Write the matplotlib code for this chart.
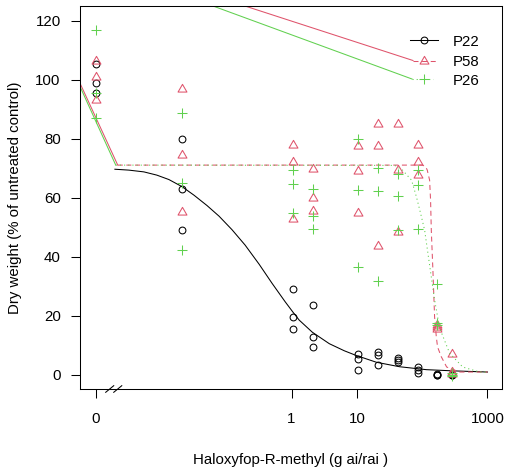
import matplotlib
matplotlib.use("Agg")
import matplotlib.pyplot as plt
from matplotlib.path import Path
from matplotlib.transforms import blended_transform_factory

# ---------------- data ----------------
doses = [0, 0.021, 1.06, 2.1, 10.6, 21, 42, 85, 170, 290]
zero_pos = 0.001  # where dose 0 is drawn on the broken log axis

p22 = [[105.5, 99, 95.5], [80, 63, 49], [29, 19.6, 15.6], [23.7, 12.9, 9.5],
       [7, 5.5, 1.7], [7.8, 6.6, 3.5], [5.8, 5.0, 4.4], [2.7, 1.7, 0.8],
       [0.3, 0, 0], [0.3, 0, 0]]
p58 = [[106.5, 101, 93], [97, 74.4, 55.2], [77.8, 72, 53], [69.7, 60, 55.5],
       [77.5, 69, 55], [85, 77.5, 43.6], [85, 69.4, 48.4], [77.8, 72.2, 67.7],
       [17, 16.2, 15.5], [7.1, 1, 0.5]]
p26 = [[117, 95.5, 87], [88.7, 65, 42.3], [69.4, 64.6, 54.8], [63, 54, 49.4],
       [80, 62.6, 36.5], [70, 62.3, 31.8], [68, 60.6, 49], [69.6, 64.4, 49.3],
       [30.8, 17.6, 16.8], [0.6, 0, -0.5]]

# fitted curves
p22_cx = [0.00198, 0.00324, 0.00551, 0.0087, 0.0133, 0.0211, 0.0322, 0.0509,
          0.0778, 0.123, 0.195, 0.32, 0.506, 0.80, 1.06, 1.31, 2.08, 3.79,
          6.43, 9.8, 20, 44.9, 116, 292, 1000]
p22_cy = [69.7, 69.4, 68.8, 67.7, 66.2, 63.8, 60.9, 57.4, 53.8, 49.2, 44.0,
          37.5, 31.0, 24.8, 21.2, 18.6, 14.5, 10.6, 8.2, 6.6, 4.3, 2.8, 1.8,
          1.4, 1.0]
p58_cx = [0.00219, 101, 113, 119.7, 130, 134.6, 138, 146, 155, 164.5, 172,
          196, 237, 375, 1000]
p58_cy = [71.1, 71.1, 70.6, 69.4, 66, 59, 49, 35.5, 19.6, 13, 9.5, 6.2,
          2.7, 1.0, 1.0]
p26_cx = [0.00204, 38, 50, 68.8, 82, 94.5, 109, 130, 155, 185, 263, 417,
          760, 1000]
p26_cy = [71.1, 71.0, 69.4, 66, 60.2, 54.8, 49.1, 37.2, 25.4, 15.9, 7.4,
          2.7, 1.0, 1.0]

series_names = ["P22", "P58", "P26"]
x_ticks = [0.001, 1, 10, 1000]
x_ticklabels = ["0", "1", "10", "1000"]
y_ticks = [0, 20, 40, 60, 80, 100, 120]

# ---------------- style ----------------
plt.rcParams["font.family"] = ["Liberation Sans", "DejaVu Sans"]
plt.rcParams["lines.scale_dashes"] = False
FS = 10.8
LW = 0.75
BLACK = "#000000"
RED = "#DF536B"
GREEN = "#61D04F"

tri = Path([(0, 1.0), (0.866, -0.5), (-0.866, -0.5), (0, 1.0)],
           [Path.MOVETO, Path.LINETO, Path.LINETO, Path.CLOSEPOLY])

fig = plt.figure(figsize=(5.05, 4.72), dpi=100)
ax = fig.add_axes([79.5 / 505, 1 - 389 / 472, (502 - 79.5) / 505, (389 - 6) / 472])
ax.set_xscale("log")
ax.set_xlim(10 ** -3.245, 10 ** 3.222)
ax.set_ylim(-4.75, 125.0)


def xs_of(d):
    return zero_pos if d == 0 else d


def scatter(vals, **kw):
    xs, ys = [], []
    for d, reps in zip(doses, vals):
        for v in reps:
            xs.append(xs_of(d))
            ys.append(v)
    ax.plot(xs, ys, linestyle="none", **kw)


# P22
scatter(p22, marker="o", markersize=4.9, markerfacecolor="none",
        markeredgecolor=BLACK, markeredgewidth=LW)
ax.plot(p22_cx, p22_cy, color=BLACK, lw=LW)
# P58
scatter(p58, marker=tri, markersize=7.4, markerfacecolor="none",
        markeredgecolor=RED, markeredgewidth=LW)
ax.plot(p58_cx, p58_cy, color=RED, lw=LW, dashes=(3.6, 2.6))
ax.plot([10 ** -3.245, p58_cx[0]], [99.2, p58_cy[0]], color=RED, lw=LW)
# P26
scatter(p26, marker="+", markersize=6.8, markeredgecolor=GREEN,
        markeredgewidth=LW)
ax.plot(p26_cx, p26_cy, color=GREEN, lw=LW, dashes=(0.8, 2.2))
ax.plot([10 ** -3.245, p26_cx[0]], [98.1, p26_cy[0]], color=GREEN, lw=LW)

# legend (drawn by hand, axes coordinates)
def ax_x(px):
    return (px - 79.5) / 422.5


def ax_y(py):
    return (389 - py) / 383


T = ax.transAxes
ax.plot([ax_x(410), ax_x(438)], [ax_y(40), ax_y(40)], color=BLACK, lw=LW, transform=T)
ax.plot([ax_x(424)], [ax_y(40)], marker="o", markersize=4.9, markerfacecolor="none",
        markeredgecolor=BLACK, markeredgewidth=LW, transform=T)
ax.plot([ax_x(413), ax_x(438)], [ax_y(60.5), ax_y(60.5)], color=RED, lw=LW,
        dashes=(3.6, 2.6), transform=T)
ax.plot([ax_x(424)], [ax_y(60.5)], marker=tri, markersize=7.4, markerfacecolor="none",
        markeredgecolor=RED, markeredgewidth=LW, transform=T)
ax.plot([ax_x(412), ax_x(433)], [ax_y(79), ax_y(79)], color=GREEN, lw=LW,
        dashes=(0.8, 2.2), transform=T)
ax.plot([ax_x(424)], [ax_y(79)], marker="+", markersize=6.8,
        markeredgecolor=GREEN, markeredgewidth=LW, transform=T)
# connecting solid lines to the legend entries
ax.plot([ax_x(245), ax_x(413)], [ax_y(6), ax_y(60.5)], color=RED, lw=LW, transform=T)
ax.plot([ax_x(213), ax_x(412)], [ax_y(6), ax_y(79)], color=GREEN, lw=LW, transform=T)
for name, py in zip(series_names, [42.3, 61.5, 80.5]):
    ax.text(ax_x(453), ax_y(py), name, fontsize=FS, va="center", ha="left",
            transform=T)

# axes
for s in ax.spines.values():
    s.set_linewidth(LW)
ax.set_xticks(x_ticks)
ax.set_xticklabels(x_ticklabels)
ax.xaxis.set_minor_locator(matplotlib.ticker.NullLocator())
ax.set_yticks(y_ticks)
ax.tick_params(axis="both", direction="out", length=6.5, width=LW, labelsize=FS)
ax.tick_params(axis="x", pad=10)
ax.tick_params(axis="y", pad=7)

# axis break marks
bt = blended_transform_factory(ax.transData, ax.transAxes)
for a, b in [(10 ** -2.844, 10 ** -2.721), (10 ** -2.721, 10 ** -2.598)]:
    ax.plot([a, b], [-0.0086, 0.0086], color=BLACK, lw=LW, transform=bt,
            clip_on=False)

ax.set_xlabel("Haloxyfop-R-methyl (g ai/rai )", fontsize=FS)
ax.xaxis.set_label_coords(0.5, (389 - 460) / 383)
ax.xaxis.label.set_va("center")
ax.set_ylabel("Dry weight (% of untreated control)", fontsize=FS)
ax.yaxis.set_label_coords((15 - 79.5) / 422.5, 0.5)
ax.yaxis.label.set_va("center")

fig.savefig("out.png", dpi=100)
